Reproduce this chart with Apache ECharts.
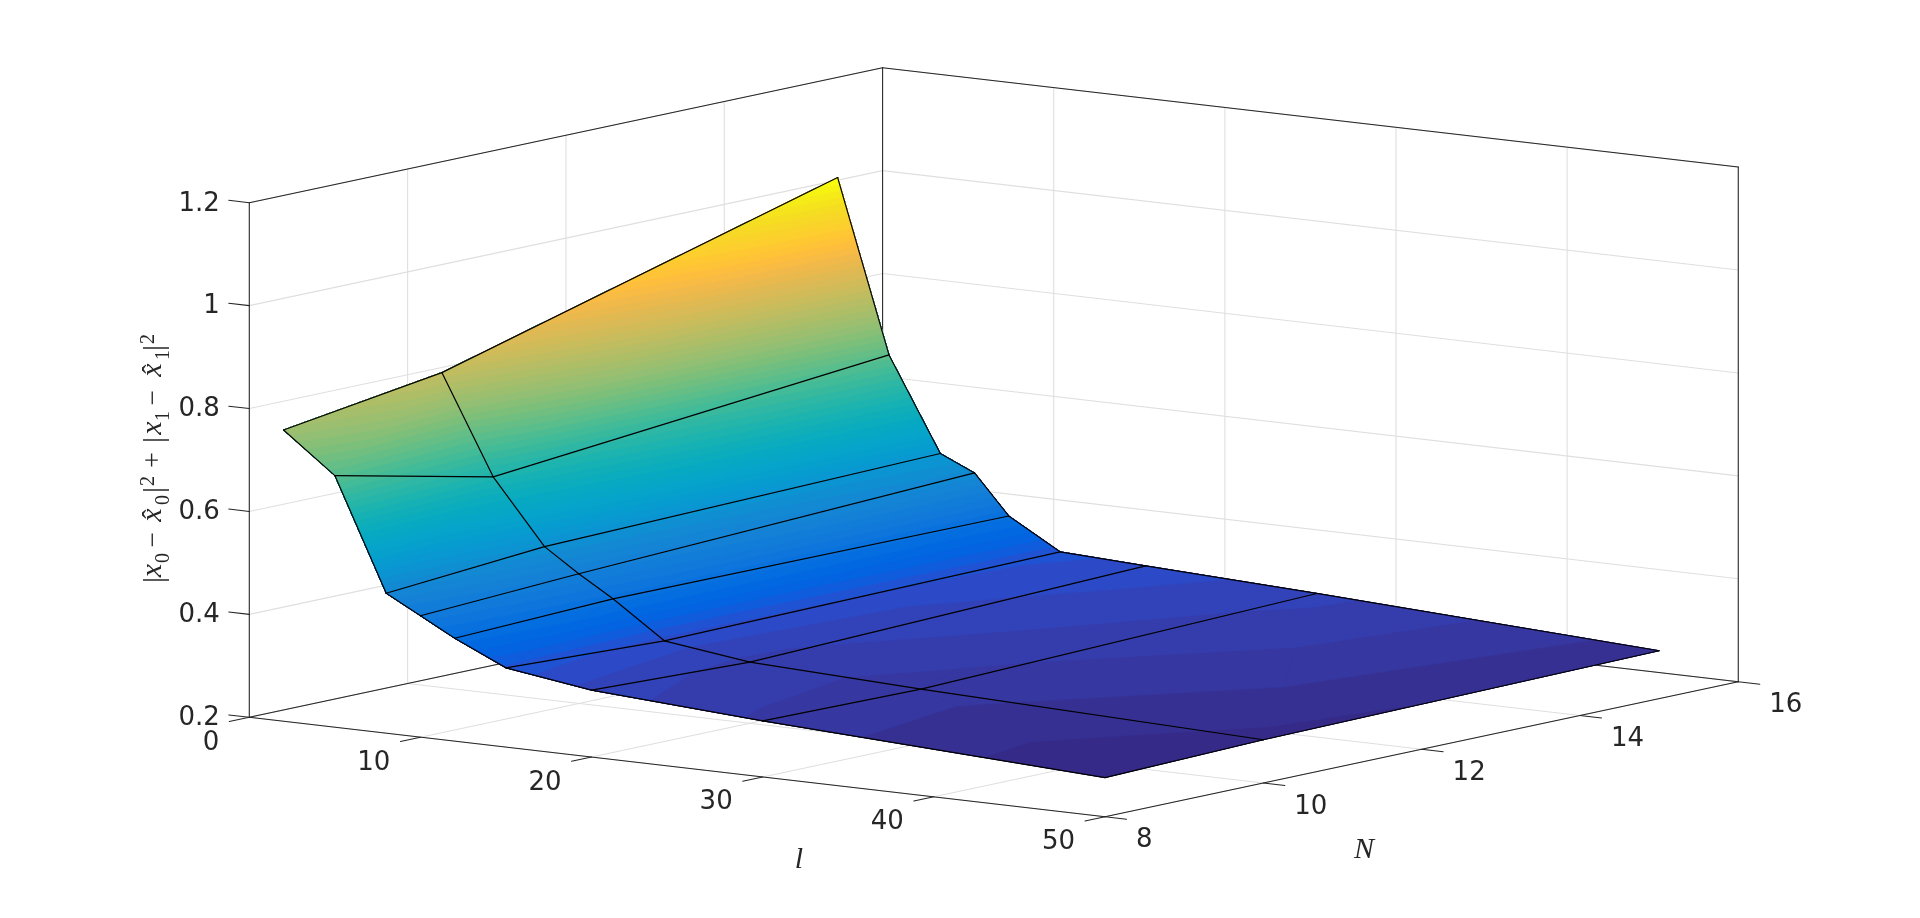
<!DOCTYPE html>
<html><head><meta charset="utf-8">
<style>html,body{margin:0;padding:0;background:#fff}#c{width:1920px;height:918px}</style>
<script src="https://cdn.jsdelivr.net/npm/echarts@6/dist/echarts.min.js"></script>
</head><body><div id="c"></div>
<script>
// ---- data ----
const lValues = [2, 5, 8, 10, 12, 15, 20, 30, 50];
const nValues = [8, 10, 15];
const zAtN8  = [0.766, 0.689, 0.472, 0.436, 0.400, 0.354, 0.330, 0.309, 0.276];
const zAtN10 = [0.812, 0.621, 0.497, 0.452, 0.411, 0.341, 0.319, 0.305, 0.284];
const zAtN15 = [1.027, 0.694, 0.514, 0.484, 0.408, 0.350, 0.342, 0.327, 0.293];
const lTicks = [0, 10, 20, 30, 40, 50];
const nTicks = [8, 10, 12, 14, 16];
const zTicks = [0.2, 0.4, 0.6, 0.8, 1, 1.2];
const zTickLabels = ['0.2', '0.4', '0.6', '0.8', '1', '1.2'];

// MATLAB parula, 64 levels
const parula = [[.2081,.1663,.5292],[.2116,.1898,.5777],[.2123,.2138,.6270],[.2081,.2386,.6771],[.1959,.2645,.7279],[.1707,.2919,.7792],[.1253,.3242,.8303],[.0591,.3598,.8683],[.0117,.3875,.8820],[.0060,.4086,.8828],[.0165,.4266,.8786],[.0329,.4430,.8720],[.0498,.4586,.8641],[.0629,.4737,.8554],[.0723,.4887,.8467],[.0779,.5040,.8384],[.0793,.5200,.8312],[.0749,.5375,.8263],[.0641,.5570,.8240],[.0488,.5772,.8228],[.0343,.5966,.8199],[.0265,.6137,.8135],[.0239,.6287,.8038],[.0231,.6418,.7913],[.0228,.6535,.7768],[.0267,.6642,.7607],[.0384,.6743,.7436],[.0590,.6838,.7254],[.0843,.6928,.7062],[.1133,.7015,.6859],[.1453,.7098,.6646],[.1801,.7177,.6424],[.2178,.7250,.6193],[.2586,.7317,.5954],[.3022,.7376,.5712],[.3482,.7424,.5473],[.3953,.7459,.5244],[.4420,.7481,.5033],[.4871,.7491,.4840],[.5300,.7491,.4661],[.5709,.7485,.4494],[.6099,.7473,.4337],[.6473,.7456,.4188],[.6834,.7435,.4044],[.7184,.7411,.3905],[.7525,.7384,.3768],[.7858,.7356,.3633],[.8185,.7327,.3498],[.8507,.7299,.3360],[.8824,.7274,.3217],[.9139,.7258,.3063],[.9450,.7261,.2886],[.9739,.7314,.2666],[.9938,.7455,.2403],[.9990,.7653,.2164],[.9955,.7861,.1967],[.9880,.8066,.1794],[.9789,.8271,.1633],[.9697,.8481,.1475],[.9626,.8705,.1309],[.9589,.8949,.1132],[.9598,.9218,.0948],[.9661,.9514,.0755],[.9763,.9831,.0538]];

// ---- orthographic view of the 3D box ----
const view = {ox: 249.3, oy: 717.3, lx: 17.114, ly: 1.988, nx: 79.16, ny: -16.875, zy: -514.6};
const project = (l, n, z) => [
  view.ox + view.lx * l + view.nx * (n - 8),
  view.oy + view.ly * l + view.ny * (n - 8) + view.zy * (z - 0.2)
];
const lMin = 0, lMax = 50, nMin = 8, nMax = 16, zMin = 0.2, zMax = 1.2;
const INK = '#262626', GRID = '#dfdfdf';
const FONT = '"DejaVu Sans"', SERIF = '"Liberation Serif"';

// ---- surface: each colormap level paints everything at or above it, so bands never show seams ----
const zGrid = [zAtN8, zAtN10, zAtN15];
const cMin = Math.min(...zGrid.flat()), cMax = Math.max(...zGrid.flat());
const dLevel = (cMax - cMin) / 64;
function clipAbove(poly, level) {
  const out = [];
  for (let i = 0; i < poly.length; i++) {
    const a = poly[i], b = poly[(i + 1) % poly.length];
    const ina = a[2] >= level, inb = b[2] >= level;
    if (ina) out.push(a);
    if (ina !== inb) {
      const t = (level - a[2]) / (b[2] - a[2]);
      out.push([a[0] + t * (b[0] - a[0]), a[1] + t * (b[1] - a[1]), level]);
    }
  }
  return out;
}
const triangles = [];
for (let j = 0; j < nValues.length - 1; j++) {
  for (let i = 0; i < lValues.length - 1; i++) {
    const v = (a, b) => [lValues[a], nValues[b], zGrid[b][a]];
    triangles.push([v(i, j), v(i + 1, j), v(i, j + 1)]);
    triangles.push([v(i + 1, j), v(i + 1, j + 1), v(i, j + 1)]);
  }
}
const bands = [];
// the lowest level is painted twice: it has no earlier layer beneath it to close the seams
[0, 0].concat(Array.from({length: 63}, (_, i) => i + 1)).forEach(k => {
  triangles.forEach(tri => {
    const p = clipAbove(tri, cMin + k * dLevel);
    if (p.length >= 3) bands.push({k, p});
  });
});
const colour = k => { const c = parula[k]; return 'rgb(' + c.map(x => Math.round(x * 255)).join(',') + ')'; };

// ---- line rows ----
const gridRows = [], boxRows = [], tickRows = [], edgeRows = [];
zTicks.forEach(z => {
  gridRows.push([lMin, nMin, z, lMin, nMax, z], [lMin, nMax, z, lMax, nMax, z]);
  tickRows.push([lMin, nMin, z, lMin - 1.2, nMin, z]);
});
lTicks.forEach(l => {
  gridRows.push([l, nMin, zMin, l, nMax, zMin], [l, nMax, zMin, l, nMax, zMax]);
  tickRows.push([l, nMin, zMin, l, nMin - 0.253, zMin]);
});
nTicks.forEach(n => {
  gridRows.push([lMin, n, zMin, lMax, n, zMin], [lMin, n, zMin, lMin, n, zMax]);
  tickRows.push([lMax, n, zMin, lMax + 1.26, n, zMin]);
});
boxRows.push(
  [lMin, nMin, zMin, lMax, nMin, zMin], [lMax, nMin, zMin, lMax, nMax, zMin],
  [lMin, nMin, zMin, lMin, nMax, zMin], [lMin, nMax, zMin, lMax, nMax, zMin],
  [lMin, nMin, zMin, lMin, nMin, zMax], [lMin, nMax, zMin, lMin, nMax, zMax],
  [lMax, nMax, zMin, lMax, nMax, zMax], [lMin, nMin, zMax, lMin, nMax, zMax],
  [lMin, nMax, zMax, lMax, nMax, zMax]
);
nValues.forEach((n, j) => lValues.slice(1).forEach((l, i) =>
  edgeRows.push([lValues[i], n, zGrid[j][i], l, n, zGrid[j][i + 1]])));
lValues.forEach((l, i) => nValues.slice(1).forEach((n, j) =>
  edgeRows.push([l, nValues[j], zGrid[j][i], l, n, zGrid[j + 1][i]])));

function lineSeries(rows, stroke, width, z) {
  return {
    type: 'custom', coordinateSystem: 'cartesian2d', silent: true, clip: false, z, progressive: 0,
    data: rows,
    renderItem: (params, api) => {
      const r = rows[params.dataIndex];
      const a = api.coord(project(r[0], r[1], r[2])), b = api.coord(project(r[3], r[4], r[5]));
      return {type: 'line', shape: {x1: a[0], y1: a[1], x2: b[0], y2: b[1]}, style: {stroke, lineWidth: width, fill: null, lineCap: 'round'}};
    }
  };
}

// ---- text rows: [text, l, n, z, dx, dy, align] ----
const textRows = [];
zTicks.forEach((z, i) => textRows.push([zTickLabels[i], lMin - 1.2, nMin, z, -9, 3.5, 'right']));
lTicks.forEach(l => textRows.push([String(l), l, nMin - 0.253, zMin, -10, 21.5, 'right']));
nTicks.forEach(n => textRows.push([String(n), lMax + 1.26, n, zMin, 9.4, 21.5, 'left']));

const textSeries = {
  type: 'custom', coordinateSystem: 'cartesian2d', silent: true, clip: false, z: 5, progressive: 0,
  data: textRows.map((r, i) => [i]),
  renderItem: (params, api) => {
    const r = textRows[params.dataIndex];
    const p = api.coord(project(r[1], r[2], r[3]));
    return {type: 'text', style: {text: r[0], x: p[0] + r[4], y: p[1] + r[5], align: r[6], verticalAlign: 'middle',
      fontFamily: FONT, fontSize: 26, fill: INK}};
  }
};

// ---- y label, laid out piece by piece: [text, along, across, size, italic] ----
const zLabelAnchor = [156.5, 583];
const zLabelPieces = [
  ['|', 3, -1, 30, 0], ['x', 12.5, -3, 30, 1], ['0', 25, 7, 20, 0], ['\u2212', 43, -3, 27, 0],
  ['x', 68, -3, 30, 1], ['\u02c6', 69, -3, 28, 0], ['0', 83, 7, 20, 0], ['|', 93, -1, 30, 0], ['2', 102, -8, 20, 0],
  ['+', 123, -3, 28, 0], ['|', 143, -1, 30, 0], ['x', 155, -3, 30, 1], ['1', 167, 7, 20, 0], ['\u2212', 185, -3, 27, 0],
  ['x', 213, -3, 30, 1], ['\u02c6', 214, -3, 28, 0], ['1', 228, 7, 20, 0], ['|', 235, -1, 30, 0], ['2', 244, -8, 20, 0]
];
const zLabelSeries = {
  type: 'custom', coordinateSystem: 'cartesian2d', silent: true, clip: false, z: 5, progressive: 0,
  data: zLabelPieces.map((r, i) => [i]),
  renderItem: (params, api) => {
    const r = zLabelPieces[params.dataIndex];
    const p = api.coord([zLabelAnchor[0] + r[2], zLabelAnchor[1] - r[1]]);
    return {type: 'text', x: p[0], y: p[1], rotation: Math.PI / 2,
      style: {text: r[0], x: 0, y: 0, align: 'center', verticalAlign: 'middle', fontFamily: SERIF,
        fontStyle: r[4] ? 'italic' : 'normal', fontSize: r[3], fill: INK}};
  }
};
const axisNames = [['l', 799, 860], ['N', 1364, 850.5]];
const axisNameSeries = {
  type: 'custom', coordinateSystem: 'cartesian2d', silent: true, clip: false, z: 5, progressive: 0,
  data: axisNames.map((r, i) => [i]),
  renderItem: (params, api) => {
    const r = axisNames[params.dataIndex];
    const p = api.coord([r[1], r[2]]);
    return {type: 'text', style: {text: r[0], x: p[0], y: p[1], align: 'center', verticalAlign: 'middle',
      fontFamily: SERIF, fontStyle: 'italic', fontSize: 30, fill: INK}};
  }
};

const surfaceSeries = {
  type: 'custom', coordinateSystem: 'cartesian2d', silent: true, clip: false, z: 3, progressive: 0,
  data: bands.map((b, i) => [i]),
  renderItem: (params, api) => {
    const b = bands[params.dataIndex];
    const pts = b.p.map(q => api.coord(project(q[0], q[1], q[2])));
    const c = colour(b.k);
    return {type: 'polygon', shape: {points: pts}, style: {fill: c, stroke: c, lineWidth: b.k === 0 ? 1 : 0.6, lineJoin: 'round'}};
  }
};

const chart = echarts.init(document.getElementById('c'), null, {renderer: 'canvas'});
chart.setOption({
  animation: false,
  backgroundColor: '#fff',
  grid: {left: 0, right: 0, top: 0, bottom: 0},
  xAxis: {type: 'value', min: 0, max: 1920, show: false},
  yAxis: {type: 'value', min: 0, max: 918, inverse: true, show: false},
  series: [
    lineSeries(gridRows, GRID, 1.1, 1),
    lineSeries(boxRows, INK, 1.05, 2),
    lineSeries(tickRows, INK, 1.05, 2),
    surfaceSeries,
    lineSeries(edgeRows, '#000', 1.2, 4),
    textSeries, zLabelSeries, axisNameSeries
  ]
});
</script></body></html>
